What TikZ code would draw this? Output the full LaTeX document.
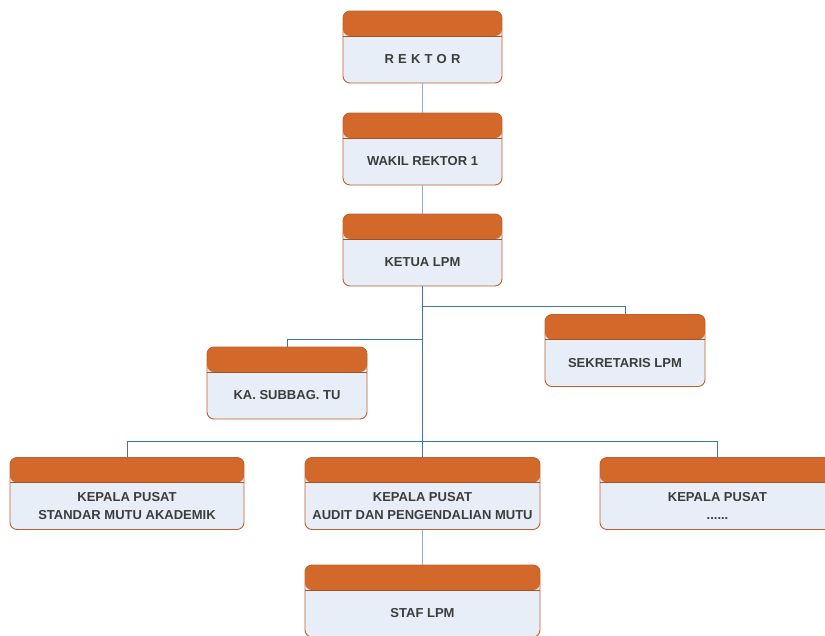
\documentclass[tikz,border=0pt]{standalone}
\usepackage{fontspec}
\setmainfont{Liberation Sans}
\definecolor{headorange}{HTML}{D2692A}
\definecolor{edgeorange}{HTML}{C0602A}
\definecolor{bodyblue}{HTML}{E8EEF8}
\definecolor{linkblue}{HTML}{3A78AE}
\definecolor{linklight}{HTML}{86AED0}
\definecolor{txtgray}{HTML}{3C3C3C}
\tikzset{
  orgbox/.style={draw=edgeorange, line width=0.9pt, fill=bodyblue,
    rounded corners=7pt, minimum width=#1, minimum height=72pt, inner sep=0pt,
    path picture={
      \fill[headorange] (path picture bounding box.north west)
        rectangle ([yshift=-25pt]path picture bounding box.north east);
      \draw[edgeorange!85!black, line width=0.8pt]
        ([yshift=-25pt]path picture bounding box.north west)
        -- ([yshift=-25pt]path picture bounding box.north east);}},
  orgtext/.style={font=\bfseries\fontsize{13}{18}\selectfont,
    text=txtgray, align=center, inner sep=0pt, yshift=-12.5pt},
  link/.style={draw=linkblue, line width=0.9pt},
  softlink/.style={draw=linklight, line width=1pt}
}
\begin{document}
\begin{tikzpicture}[x=1pt,y=-1pt]
  \useasboundingbox (0,0) rectangle (825,635);
  % boxes
  \node[orgbox=159pt, label={[orgtext]center:R\kern4.2pt E\kern4.2pt K\kern4.2pt T\kern4.2pt O\kern4.2pt R}] (rektor) at (422.5,47) {};
  \node[orgbox=159pt, label={[orgtext]center:WAKIL REKTOR 1}] (wakil) at (422.5,149) {};
  \node[orgbox=159pt, label={[orgtext]center:KETUA LPM}] (ketua) at (422.5,250) {};
  \node[orgbox=160pt, label={[orgtext]center:SEKRETARIS LPM}] (sekretaris) at (625,350.5) {};
  \node[orgbox=160pt, label={[orgtext]center:KA. SUBBAG. TU}] (subbag) at (287,383) {};
  \node[orgbox=234pt, label={[orgtext]center:KEPALA PUSAT\\STANDAR MUTU AKADEMIK}] (smak) at (127,493.5) {};
  \node[orgbox=235pt, label={[orgtext]center:KEPALA PUSAT\\AUDIT DAN PENGENDALIAN MUTU}] (audit) at (422.5,493.5) {};
  \node[orgbox=235pt, label={[orgtext]center:KEPALA PUSAT\\......}] (lain) at (717.5,493.5) {};
  \node[orgbox=235pt, label={[orgtext]center:STAF LPM}] (staf) at (422.5,601) {};
  % connectors
  \draw[softlink] (rektor) -- (wakil);
  \draw[softlink] (wakil) -- (ketua);
  \draw[softlink] (audit) -- (staf);
  \begin{scope}[link]
    \draw (ketua) -- (audit);
    \draw (sekretaris.north) -- ++(0,-8) -| (ketua.south);
    \draw (subbag.north) -- ++(0,-7) -| (ketua.south);
    \draw (smak.north) -- ++(0,-16) -| (lain.north);
  \end{scope}
\end{tikzpicture}
\end{document}
